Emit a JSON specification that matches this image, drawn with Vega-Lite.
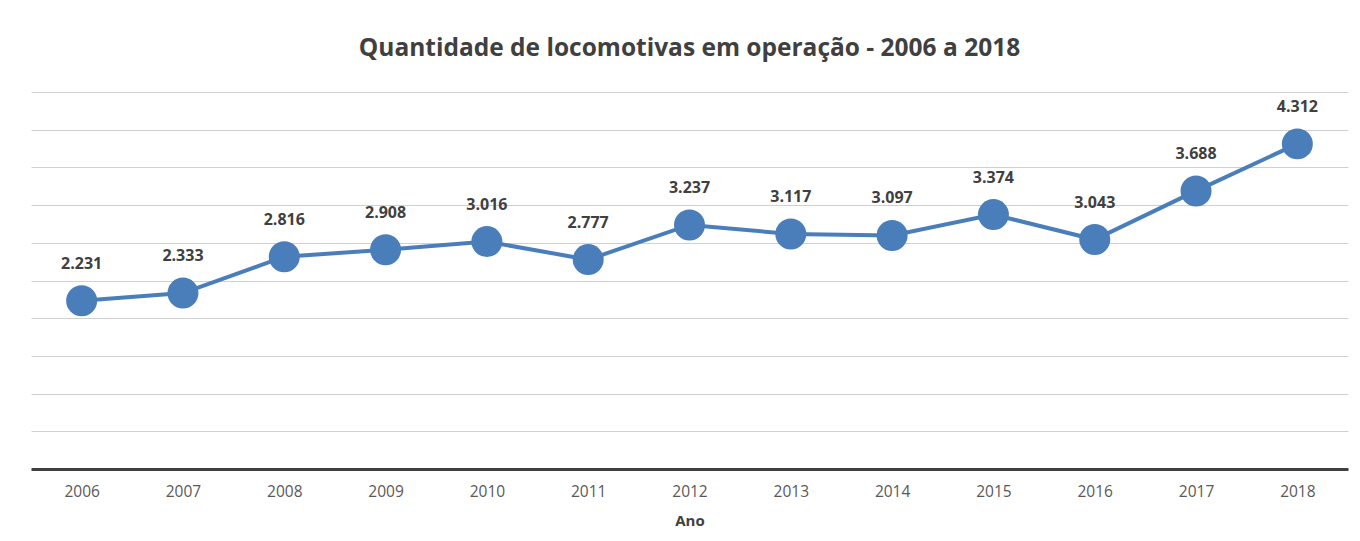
{
  "$schema": "https://vega.github.io/schema/vega-lite/v6.json",
  "width": 1317,
  "height": 377,
  "autosize": {"type": "none"},
  "padding": {"left": 31, "top": 92, "right": 12, "bottom": 72},
  "background": "white",
  "config": {
    "locale": {"number": {"decimal": ",", "thousands": ".", "grouping": [3], "currency": ["R$", ""]}},
    "view": {"stroke": null},
    "font": "Open Sans"
  },
  "title": {
    "text": "Quantidade de locomotivas em operação - 2006 a 2018",
    "font": "Open Sans",
    "fontSize": 24.5,
    "fontWeight": "bold",
    "color": "#404040",
    "anchor": "middle",
    "offset": 31
  },
  "data": {
    "values": [
      {"ano": "2006", "qtd": 2231},
      {"ano": "2007", "qtd": 2333},
      {"ano": "2008", "qtd": 2816},
      {"ano": "2009", "qtd": 2908},
      {"ano": "2010", "qtd": 3016},
      {"ano": "2011", "qtd": 2777},
      {"ano": "2012", "qtd": 3237},
      {"ano": "2013", "qtd": 3117},
      {"ano": "2014", "qtd": 3097},
      {"ano": "2015", "qtd": 3374},
      {"ano": "2016", "qtd": 3043},
      {"ano": "2017", "qtd": 3688},
      {"ano": "2018", "qtd": 4312}
    ]
  },
  "encoding": {
    "x": {
      "field": "ano",
      "type": "ordinal",
      "scale": {"type": "point", "padding": 0.5},
      "axis": {
        "title": "Ano",
        "titleFont": "Open Sans",
        "titleFontSize": 15,
        "titleFontWeight": "bold",
        "titleColor": "#404040",
        "titlePadding": 14,
        "labelAngle": 0,
        "labelFont": "Open Sans",
        "labelFontSize": 15.5,
        "labelColor": "#595959",
        "labelPadding": 15,
        "ticks": false,
        "domainColor": "#404040",
        "domainWidth": 3,
        "grid": false
      }
    },
    "y": {
      "field": "qtd",
      "type": "quantitative",
      "scale": {"domain": [0, 5000], "nice": false},
      "axis": {
        "title": null,
        "labels": false,
        "ticks": false,
        "domain": false,
        "grid": true,
        "gridColor": "#d0d0d0",
        "gridWidth": 1,
        "values": [500, 1000, 1500, 2000, 2500, 3000, 3500, 4000, 4500, 5000]
      }
    }
  },
  "layer": [
    {"mark": {"type": "line", "color": "#4a7ebb", "strokeWidth": 4}},
    {"mark": {"type": "circle", "color": "#4a7ebb", "opacity": 1, "size": 960}},
    {
      "mark": {"type": "text", "dy": -37, "font": "Open Sans", "fontSize": 16, "fontWeight": "bold", "color": "#404040"},
      "encoding": {"text": {"field": "qtd", "type": "quantitative", "format": ",d"}}
    }
  ]
}
